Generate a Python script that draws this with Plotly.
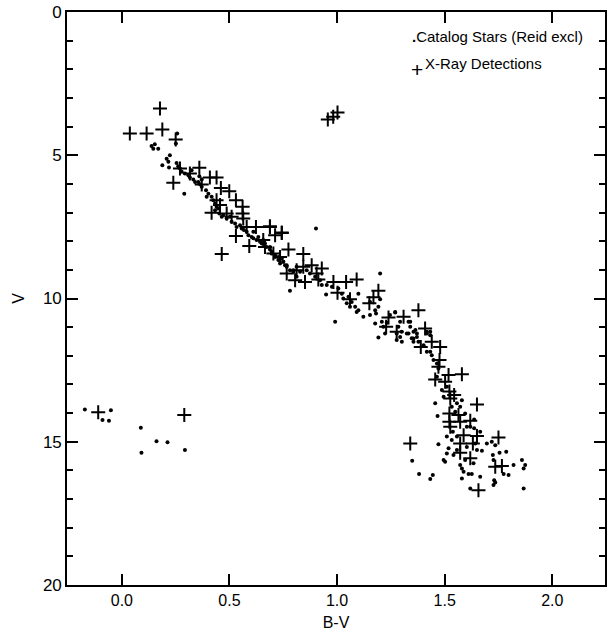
import plotly.graph_objects as go

# Catalog stars (B-V, V)
cat_bv = [
    0.138, 0.153, 0.146, 0.169, 0.257, 0.251, 0.223, 0.208, 0.216, 0.188, 0.219, 0.290,
    0.254, 0.262, 0.270, 0.278, 0.293, 0.309, 0.316, 0.332, 0.340, 0.355, 0.363, 0.371,
    0.391, 0.402, 0.394, 0.417, 0.425, 0.433, 0.440, 0.448, 0.433, 0.453, 0.464, 0.471,
    0.487, 0.502, 0.510, 0.526, 0.533, 0.549, 0.557, 0.567, 0.580, 0.588, 0.603, 0.611,
    0.626, 0.642, 0.650, 0.673, 0.688, 0.696, 0.712, 0.727, 0.743, 0.750, 0.735, 0.758,
    0.766, 0.781, 0.797, 0.812, 0.360, 0.371, 0.324,
    0.902, 0.781, 1.200, 0.991,
    0.611, 0.634, 0.657, 0.665, 0.688, 0.696, 0.712, 0.727, 0.750, 0.766, 0.797, 0.812,
    0.828, 0.859, 0.874, 0.898, 0.921, 0.929, 0.952, 0.976, 1.006, 1.022, 1.053, 1.068,
    1.084, 1.099, 1.091, 1.122, 1.153, 1.177, 1.181, 1.153, 1.192, 1.200, 1.208, 1.231,
    1.177, 1.270, 1.246, 1.332, 1.285, 1.340, 1.300, 1.277, 1.324, 1.355, 1.371, 1.417,
    1.355, 1.433, 1.378, 1.192, 1.029, 1.045, 1.060, 1.099, 0.949,
    1.270, 1.215, 1.223, 1.293, 1.301, 1.340, 1.277, 1.293, 1.332, 1.347, 1.355, 1.371,
    1.364, 1.417, 1.433, 1.433, 1.440, 1.448, 1.464, 1.456, 1.467, 1.580, 1.572, 1.557,
    1.471, 1.349, 1.381, 1.433, 1.445, 1.495, 1.502, 1.518, 1.510, 1.580, 1.588, 1.580,
    1.611, 1.626, 1.665, 1.619, 1.696, 1.719, 1.735, 1.673, 1.724, 1.755, 1.786, 1.727,
    1.730, 1.735, 1.727, 1.774, 1.797, 1.820, 1.859, 1.874, 1.867, 1.867, 1.538, 1.557,
    1.637, 1.637, 1.619, 1.471, 1.464, 1.402, 1.417, 1.487, 1.495, 1.510, 1.533, 1.549,
    1.595, 1.603, 1.533, 1.557, 1.603, 1.642, 1.650, 1.510, 1.541, 1.595, 1.634, 1.572,
    1.665,
    -0.172, -0.090, -0.060, -0.051, 0.088, 0.091, 0.161, 0.212, 0.293,
]
cat_v = [
    4.68, 4.62, 4.77, 4.77, 4.24, 4.59, 5.00, 5.12, 5.23, 5.35, 5.43, 6.34,
    5.27, 5.38, 5.46, 5.58, 5.64, 5.70, 5.78, 5.85, 5.93, 5.93, 6.01, 6.10,
    6.22, 6.34, 6.45, 6.45, 6.57, 6.68, 6.80, 6.86, 6.92, 7.03, 7.15, 7.09,
    7.21, 7.15, 7.32, 7.38, 7.50, 7.44, 7.56, 7.61, 7.67, 7.79, 7.85, 7.90,
    7.96, 8.02, 8.08, 8.20, 8.29, 8.43, 8.49, 8.55, 8.60, 8.72, 8.78, 8.84,
    8.89, 9.01, 9.07, 9.24, 5.73, 5.85, 5.52,
    7.56, 9.73, 9.13, 10.81,
    7.67, 7.85, 7.96, 8.08, 8.20, 8.37, 8.55, 8.66, 8.72, 8.84, 9.01, 8.89,
    9.07, 9.01, 9.13, 9.24, 9.36, 9.53, 9.53, 9.59, 9.65, 9.83, 9.94, 10.12,
    10.29, 10.41, 10.47, 10.64, 10.12, 10.41, 10.52, 10.58, 10.29, 10.03, 10.81, 10.85,
    10.87, 10.47, 10.58, 10.81, 10.99, 10.99, 11.16, 11.45, 11.22, 11.16, 11.34, 11.16,
    11.40, 11.28, 11.51, 11.36, 10.00, 10.17, 10.29, 9.83, 9.86,
    10.49, 10.99, 11.22, 10.81, 11.51, 10.81, 11.22, 11.34, 11.22, 11.39, 11.51, 11.22,
    11.10, 11.22, 11.16, 11.86, 11.98, 12.15, 12.27, 13.66, 14.10, 13.55, 13.78, 13.66,
    15.09, 15.66, 16.13, 16.30, 16.16, 15.64, 15.70, 15.23, 14.82, 15.93, 16.05, 16.28,
    16.13, 16.13, 16.22, 16.63, 15.06, 15.00, 15.12, 15.31, 15.46, 15.38, 15.35, 15.64,
    16.34, 16.42, 16.51, 16.13, 16.16, 15.81, 15.64, 15.81, 15.93, 16.63, 14.65, 14.82,
    14.53, 14.22, 14.48, 12.44, 12.73, 11.63, 11.86, 13.19, 13.43, 13.08, 13.78, 13.95,
    14.01, 14.48, 14.94, 15.29, 15.18, 15.06, 15.29, 15.41, 15.46, 15.64, 15.75, 15.81,
    14.65,
    13.87, 14.24, 14.27, 13.90, 14.51, 15.38, 14.98, 15.02, 15.29,
]

# X-ray detections (B-V, V)
xray_bv = [
    0.177, 0.037, 0.115, 0.188, 0.250, 0.360, 0.239, 0.409, 0.440, 0.460, 0.499, 0.371,
    0.530, 0.417, 0.464, 0.530, 0.592, 0.561, 0.561, 0.564, 0.688, 0.712, 0.743, 0.774,
    0.657, 0.665, 0.704, 0.735, 0.805, 0.766, 0.812, 0.440, 0.456, 0.510, 0.487, 0.580,
    0.270, 0.316,
    0.623, 0.688, 0.743, 0.843, 0.851, 0.843, 0.882, 0.929, 0.905, 0.913, 0.983, 1.042,
    1.091, 1.002, 1.060, 1.192, 1.169, 1.150, 1.239, 1.309, 1.378, 1.409, 1.228, 1.277,
    1.389, 1.440, 1.479,
    1.476, 1.471, 1.456, 1.518, 1.580, 1.502, 1.522, 1.544, 1.526, 1.650, 1.522, 1.564,
    1.522, 1.572, 1.619, 1.526, 1.588, 1.650, 1.340, 1.572, 1.631, 1.750, 1.572, 1.619,
    1.735, 1.766, 1.657,
    0.957, 0.982, 1.002,
    -0.110, 0.290,
]
xray_v = [
    3.37, 4.24, 4.24, 4.10, 4.45, 5.44, 5.96, 5.78, 5.78, 6.14, 6.26, 6.02,
    6.57, 7.01, 8.45, 7.82, 8.17, 6.80, 7.03, 7.21, 7.50, 7.79, 7.71, 8.29,
    7.96, 8.20, 8.43, 8.55, 9.36, 9.13, 9.01, 6.57, 6.74, 7.15, 7.03, 7.50,
    5.46, 5.64,
    7.50, 7.48, 7.70, 8.45, 9.42, 8.89, 8.84, 8.95, 9.13, 9.34, 9.42, 9.42,
    9.34, 9.80, 10.03, 9.73, 9.96, 10.17, 10.66, 10.64, 10.41, 11.05, 10.99, 11.16,
    11.69, 11.51, 11.69,
    12.15, 12.38, 12.83, 12.67, 12.64, 12.91, 13.25, 13.37, 13.49, 13.70, 14.01, 14.07,
    14.30, 14.30, 14.27, 14.48, 14.77, 14.80, 15.06, 15.06, 15.06, 14.85, 15.38, 15.58,
    15.87, 15.85, 16.69,
    3.75, 3.66, 3.51,
    13.97, 14.07,
]

x_ticks = [0.0, 0.5, 1.0, 1.5, 2.0]
x_ticklabels = ["0.0", "0.5", "1.0", "1.5", "2.0"]
y_ticks = [0, 5, 10, 15, 20]
y_ticklabels = ["0", "5", "10", "15", "20"]

FONT = "Liberation Sans, Arial, sans-serif"

fig = go.Figure()
fig.add_trace(go.Scatter(
    x=cat_bv, y=cat_v, mode="markers", name="Catalog Stars (Reid excl)",
    marker=dict(symbol="circle", size=4, color="black", line=dict(width=0)),
    showlegend=False,
))
fig.add_trace(go.Scatter(
    x=xray_bv, y=xray_v, mode="markers", name="X-Ray Detections",
    marker=dict(symbol="cross-thin", size=10, color="black",
                line=dict(width=2, color="black")),
    showlegend=False,
))

# legend drawn as text annotations (paper coords)
fig.add_annotation(x=0.6375, y=0.958, xref="paper", yref="paper",
                   xanchor="left", yanchor="middle", showarrow=False,
                   text="<b>.</b>Catalog Stars (Reid excl)",
                   font=dict(size=15, family=FONT, color="black"))
fig.add_annotation(x=0.6505, y=0.900, xref="paper", yref="paper",
                   xanchor="center", yanchor="middle", showarrow=False,
                   text="+", font=dict(size=21, family=FONT, color="black"))
fig.add_annotation(x=0.661, y=0.910, xref="paper", yref="paper",
                   xanchor="left", yanchor="middle", showarrow=False,
                   text="X-Ray Detections",
                   font=dict(size=15, family=FONT, color="black"))

fig.update_layout(
    width=607, height=631,
    margin=dict(l=67, r=2, t=12, b=46),
    paper_bgcolor="white", plot_bgcolor="white",
    font=dict(family=FONT, size=16, color="black"),
    showlegend=False,
)
fig.update_xaxes(
    range=[-0.255, 2.245], tickmode="array", tickvals=x_ticks, ticktext=x_ticklabels,
    ticks="inside", ticklen=11, tickwidth=1.5, tickcolor="black",
    showline=True, linecolor="black", linewidth=1.6, mirror="allticks",
    showgrid=False, zeroline=False, automargin=False,
    title=dict(text="B-V", font=dict(size=16), standoff=12),
    tickfont=dict(size=16),
)
fig.update_yaxes(
    range=[20, 0], tickmode="array", tickvals=y_ticks, ticktext=y_ticklabels,
    ticks="inside", ticklen=11, tickwidth=1.5, tickcolor="black",
    minor=dict(dtick=1, ticks="inside", ticklen=6, tickwidth=1.5, tickcolor="black"),
    showline=True, linecolor="black", linewidth=1.6, mirror="allticks",
    showgrid=False, zeroline=False, automargin=False,
    title=dict(text="V", font=dict(size=16), standoff=14),
    tickfont=dict(size=17),
)

fig.write_html("out.html")
